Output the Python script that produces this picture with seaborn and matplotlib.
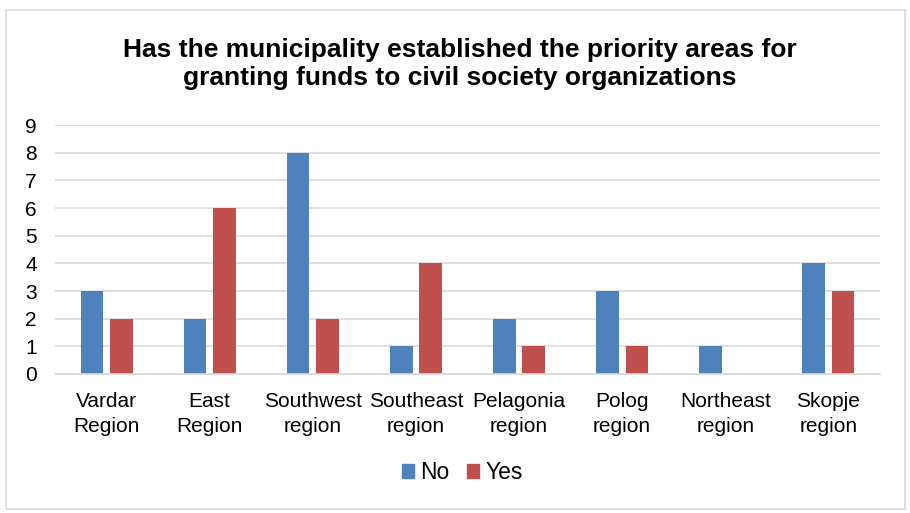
import matplotlib
matplotlib.use("Agg")
import matplotlib.pyplot as plt
import seaborn as sns
import pandas as pd
from matplotlib.patches import Rectangle

regions = ["Vardar\nRegion", "East\nRegion", "Southwest\nregion", "Southeast\nregion",
           "Pelagonia\nregion", "Polog\nregion", "Northeast\nregion", "Skopje\nregion"]
no_counts = [3, 2, 8, 1, 2, 3, 1, 4]
yes_counts = [2, 6, 2, 4, 1, 1, 0, 3]
series = ["No", "Yes"]
colors = ["#4F81BD", "#C0504D"]

df = pd.DataFrame({
    "region": regions * 2,
    "answer": [series[0]] * len(regions) + [series[1]] * len(regions),
    "count": no_counts + yes_counts,
})

sns.set_theme(style="white")
plt.rcParams["font.family"] = ["Liberation Sans", "DejaVu Sans"]
plt.rcParams["text.color"] = "#000000"

fig = plt.figure(figsize=(9.10, 5.13), dpi=100)
ax = fig.add_axes([0.0604, 0.271, 0.9066, 0.485])

sns.barplot(data=df, x="region", y="count", hue="answer", palette=colors,
            width=0.57, gap=0.23, ax=ax, legend=False, saturation=1, linewidth=0)

ax.set_ylim(0, 9)
ax.set_xlim(-0.5, len(regions) - 0.5)
ax.set_yticks(range(0, 10))
ax.yaxis.grid(True, color="#d9d9d9", linewidth=1.2)
ax.set_axisbelow(True)
for side in ["left", "right", "top"]:
    ax.spines[side].set_visible(False)
ax.spines["bottom"].set_color("#d9d9d9")
ax.spines["bottom"].set_linewidth(1.2)
ax.tick_params(axis="both", length=0, labelsize=15, colors="#000000")
ax.tick_params(axis="y", pad=13)
ax.tick_params(axis="x", pad=13)
for lbl in ax.get_xticklabels():
    lbl.set_linespacing(1.37)
ax.set_xlabel("")
ax.set_ylabel("")

fig.suptitle("Has the municipality established the priority areas for\n"
             "granting funds to civil society organizations",
             x=0.505, y=0.926, fontsize=19, fontweight="bold", linespacing=1.2,
             color="#000000")

handles = [Rectangle((0, 0), 1, 1, color=c) for c in colors]
leg = fig.legend(handles, series, loc="center", bbox_to_anchor=(0.508, 0.078), ncol=2,
                 frameon=False, fontsize=16.5, handlelength=0.55, handleheight=0.55,
                 handletextpad=0.26, columnspacing=0.75)
for t in leg.get_texts():
    t.set_color("#000000")

fig.patches.append(Rectangle((0.007, 0.008), 0.988, 0.972, transform=fig.transFigure,
                             fill=False, edgecolor="#d9d9d9", linewidth=1.2))

fig.savefig("out.png", dpi=100, facecolor="white")
